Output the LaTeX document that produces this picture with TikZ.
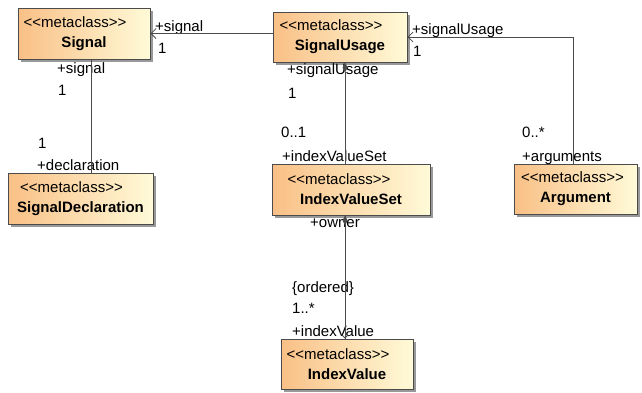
\documentclass[tikz,border=0pt]{standalone}
\usepackage{fontspec}
\newfontfamily\umlfont{Liberation Sans}
\usetikzlibrary{arrows.meta,shadows}
\definecolor{boxleft}{RGB}{249,192,134}
\definecolor{boxright}{RGB}{255,250,216}
\definecolor{edge}{RGB}{75,75,75}
\newcommand\stereo[1][18pt]{<<metaclass>>\hspace*{#1}}
\newcommand\classname[1]{{\bfseries #1}}

\begin{document}
\begin{tikzpicture}
[
x=1pt,y=-1pt,
font=\umlfont\fontsize{15}{20}\selectfont,
metaclass/.style 2 args={draw=edge,line width=1pt,left color=boxleft,right color=boxright,
            drop shadow={shadow xshift=3pt,shadow yshift=-3pt,fill=black!40,opacity=1},
            minimum width=#1pt,minimum height=#2pt,inner sep=0pt,align=center},
role/.style={anchor=base west,inner sep=0pt},
assoc/.style={draw=edge,line width=0.8pt},
nav/.style={assoc,-{Straight Barb[length=5pt,width=10pt]}},
comp/.style={assoc,-{Diamond[length=10pt,width=5pt]}},
]
\useasboundingbox (0,0) rectangle (642,392);

%Place the nodes
\node[metaclass={132}{51}] (signal) at (84,33.5) {\stereo\\\classname{Signal}};
\node[metaclass={134}{50}] (usage) at (340,37) {\stereo\\\classname{SignalUsage}};
\node[metaclass={145}{51}] (decl) at (80.5,198.5) {\stereo\\\classname{SignalDeclaration}};
\node[metaclass={158}{51}] (ivs) at (351,189.5) {\stereo[24pt]\\\classname{IndexValueSet}};
\node[metaclass={123}{50}] (arg) at (575.5,189) {\stereo[6pt]\\\classname{Argument}};
\node[metaclass={132}{50}] (iv) at (347,364) {\stereo\\\classname{IndexValue}};

%Role names and multiplicities
\node[role] (usageSignal) at (155,31) {+signal};
\node[role] (usageSignalM) at (158,53) {1};
\node[role] (declSignal) at (57,73) {+signal};
\node[role] (declSignalM) at (58,95) {1};
\node[role] (declM) at (38,148) {1};
\node[role] (declRole) at (37,170) {+declaration};
\node[role] (ivsUsage) at (287,74) {+signalUsage};
\node[role] (ivsUsageM) at (288,98) {1};
\node[role] (ivsM) at (281,137) {0..1};
\node[role] (ivsRole) at (282,161) {+indexValueSet};
\node[role] (argUsage) at (412,34) {+signalUsage};
\node[role] (argUsageM) at (413,56) {1};
\node[role] (argM) at (522,137) {0..*};
\node[role] (argRole) at (522,161) {+arguments};
\node[role] (ivOwner) at (310,227) {+owner};
\node[role] (ivOrdered) at (292,292) {\{ordered\}};
\node[role] (ivM) at (292,313) {1..*};
\node[role] (ivRole) at (292,336) {+indexValue};

%Draw the connections
\draw[nav] (usage.west |- signal.east) -- (signal.east);
\draw[assoc] (signal.south -| 91,0) -- (decl.north -| 91,0);
\draw[comp] (ivs.north -| 345,0) -- (usage.south -| 345,0);
\draw[nav] (arg.north -| 573,0) |- (usage.east);
\draw[comp] (iv.north -| 345,0) -- (ivs.south -| 345,0);
\draw[assoc,-{Straight Barb[length=3pt,width=6pt]}] (ivs.south -| 345,0) -- (iv.north -| 345,0);
\end{tikzpicture}
\end{document}
